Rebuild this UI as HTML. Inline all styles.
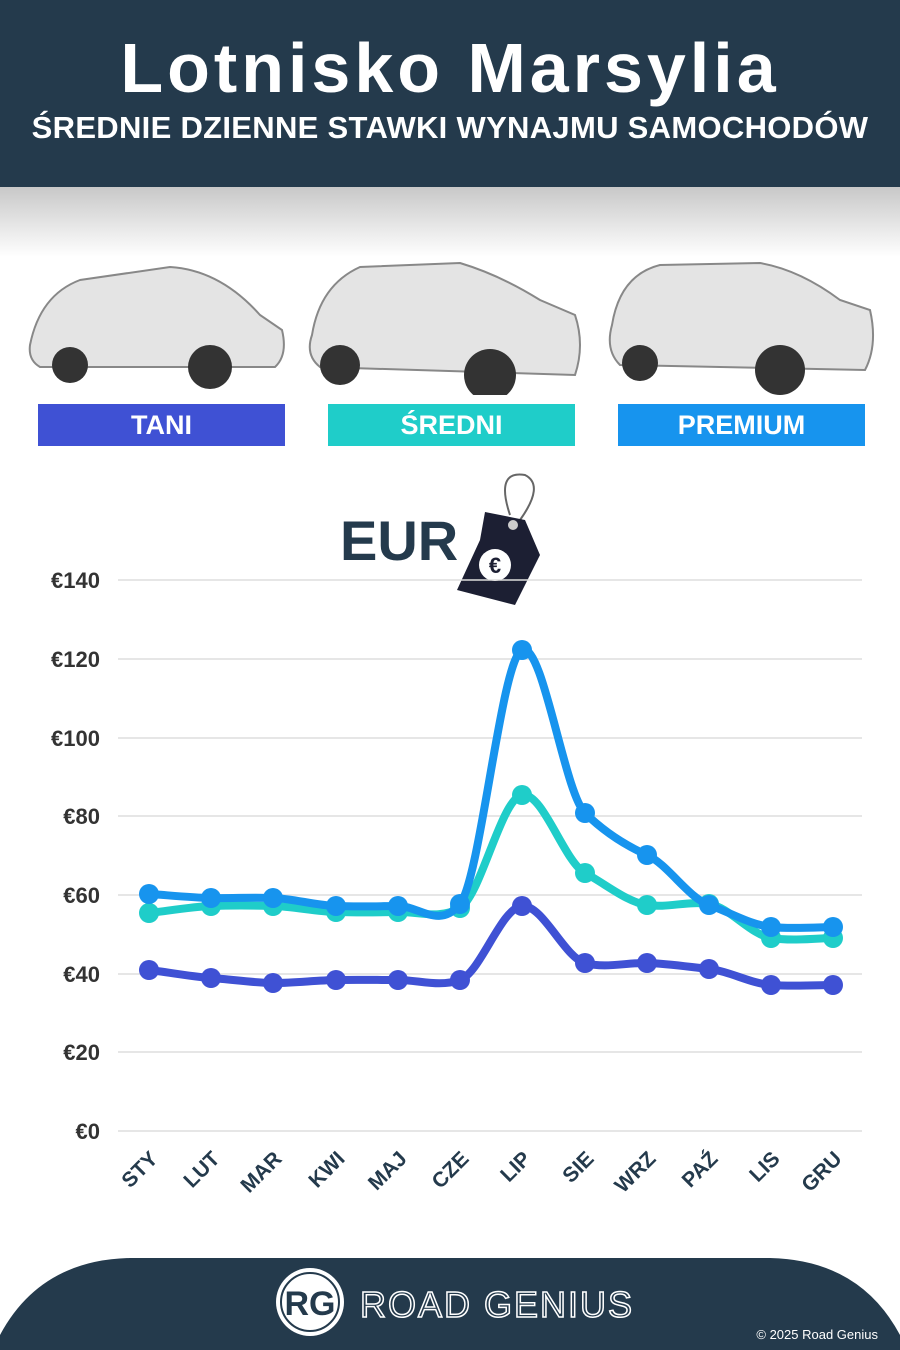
<!DOCTYPE html>
<html><head><meta charset="utf-8"><style>
body{margin:0;width:900px;height:1350px;background:#fff;position:relative;overflow:hidden;font-family:"Liberation Sans",sans-serif}
.hdr{position:absolute;left:0;top:0;width:900px;height:187px;background:#243a4c;color:#fff;text-align:center}
.t1{position:absolute;top:28px;width:100%;font-size:70px;font-weight:bold;letter-spacing:4px}
.t2{position:absolute;top:110px;width:100%;font-size:31px;font-weight:bold;letter-spacing:0.3px}
.shade{position:absolute;top:187px;left:0;width:900px;height:70px;background:linear-gradient(#c8c8c8,#fff)}
.lab{position:absolute;top:404px;height:42px;width:247px;color:#fff;font-weight:bold;font-size:27px;text-align:center;line-height:42px}
.car{position:absolute;}
</style></head><body>
<div class="hdr"><div class="t1">Lotnisko Marsylia</div><div class="t2">ŚREDNIE DZIENNE STAWKI WYNAJMU SAMOCHODÓW</div></div>
<div class="shade"></div>
<svg class="car" style="left:20px;top:255px" width="870" height="140">
<g fill="#e4e4e4" stroke="#888" stroke-width="2">
<path d="M10 90 Q20 40 60 25 L150 12 Q200 15 240 60 L262 75 Q268 100 255 112 L20 112 Q8 105 10 90Z"/>
<path d="M292 80 Q300 30 340 12 L440 8 Q480 20 520 45 L555 60 Q565 90 555 120 L300 112 Q285 100 292 80Z"/>
<path d="M592 70 Q600 20 640 10 L740 8 Q780 15 820 45 L850 55 Q858 90 845 115 L600 110 Q585 95 592 70Z"/>
</g><g fill="#333"><circle cx="50" cy="110" r="18"/><circle cx="190" cy="112" r="22"/><circle cx="320" cy="110" r="20"/><circle cx="470" cy="120" r="26"/><circle cx="620" cy="108" r="18"/><circle cx="760" cy="115" r="25"/></g></svg>
<div class="lab" style="left:38px;background:#3f51d4">TANI</div>
<div class="lab" style="left:328px;background:#1fcdc9">ŚREDNI</div>
<div class="lab" style="left:618px;background:#1794ee">PREMIUM</div>
<div style="position:absolute;left:340px;top:508px;font-size:56px;font-weight:bold;color:#243a4c">EUR</div>
<svg style="position:absolute;left:455px;top:470px" width="95" height="140">
<path d="M55 45 Q40 0 70 5 Q90 15 65 50" fill="none" stroke="#666" stroke-width="2"/>
<path d="M30 42 L70 50 L85 85 L60 135 L2 120 L25 70Z" fill="#1c1f33"/><circle cx="58" cy="55" r="5" fill="#ccc"/>
<circle cx="40" cy="95" r="16" fill="#fff"/><text x="40" y="103" text-anchor="middle" font-size="22" font-weight="bold" fill="#1c1f33">€</text></svg>
<svg id="ch" style="position:absolute;left:0;top:0" width="900" height="1250"></svg>
<svg style="position:absolute;left:0;top:1255px" width="900" height="95">
<path d="M0 95 L0 80 Q40 5 130 3 L770 3 Q860 5 900 80 L900 95Z" fill="#243a4c"/>
<circle cx="310" cy="47" r="34" fill="#fff"/><circle cx="310" cy="47" r="29" fill="none" stroke="#243a4c" stroke-width="2"/>
<text x="310" y="60" text-anchor="middle" font-size="34" font-weight="bold" fill="#243a4c">RG</text>
<text x="360" y="62" font-size="36" fill="none" stroke="#fff" stroke-width="1.5" letter-spacing="2">ROAD GENIUS</text>
<text x="878" y="84" text-anchor="end" font-size="13" fill="#fff">© 2025 Road Genius</text></svg>
<script>
var s=document.getElementById('ch'),h='';
var ys=[1131,1052,974,895,816,738,659,580],lb=['€0','€20','€40','€60','€80','€100','€120','€140'];
for(var i=0;i<8;i++){h+='<line x1="118" x2="862" y1="'+ys[i]+'" y2="'+ys[i]+'" stroke="#ddd" stroke-width="1.5"/>';
h+='<text x="100" y="'+(ys[i]+8)+'" text-anchor="end" font-size="22" font-weight="bold" fill="#333" font-family="Liberation Sans">'+lb[i]+'</text>';}
var X=[149,211,273,336,398,460,522,585,647,709,771,833],M=['STY','LUT','MAR','KWI','MAJ','CZE','LIP','SIE','WRZ','PAŹ','LIS','GRU'];
for(i=0;i<12;i++)h+='<text transform="translate('+(X[i]+10)+',1160) rotate(-45)" text-anchor="end" font-size="21" font-weight="bold" fill="#243a4c" font-family="Liberation Sans">'+M[i]+'</text>';
function line(Y,c){var d='M'+X[0]+' '+Y[0];for(var i=0;i<11;i++){var p0=i?[X[i-1],Y[i-1]]:[X[i],Y[i]],p1=[X[i],Y[i]],p2=[X[i+1],Y[i+1]],p3=i<10?[X[i+2],Y[i+2]]:p2;
d+=' C'+(p1[0]+(p2[0]-p0[0])/6)+' '+(p1[1]+(p2[1]-p0[1])/10)+' '+(p2[0]-(p3[0]-p1[0])/6)+' '+(p2[1]-(p3[1]-p1[1])/10)+' '+p2[0]+' '+p2[1];}
var r='<path d="'+d+'" fill="none" stroke="'+c+'" stroke-width="8" stroke-linecap="round"/>';
for(var i=0;i<12;i++)r+='<circle cx="'+X[i]+'" cy="'+Y[i]+'" r="10" fill="'+c+'"/>';return r;}
h+=line([913,906,906,912,912,908,795,873,905,904,938,938],'#1fcdc9');
h+=line([894,898,898,906,906,904,650,813,855,905,927,927],'#1794ee');
h+=line([970,978,983,980,980,980,906,963,963,969,985,985],'#3f51d4');
s.innerHTML=h;
</script>
</body></html>
